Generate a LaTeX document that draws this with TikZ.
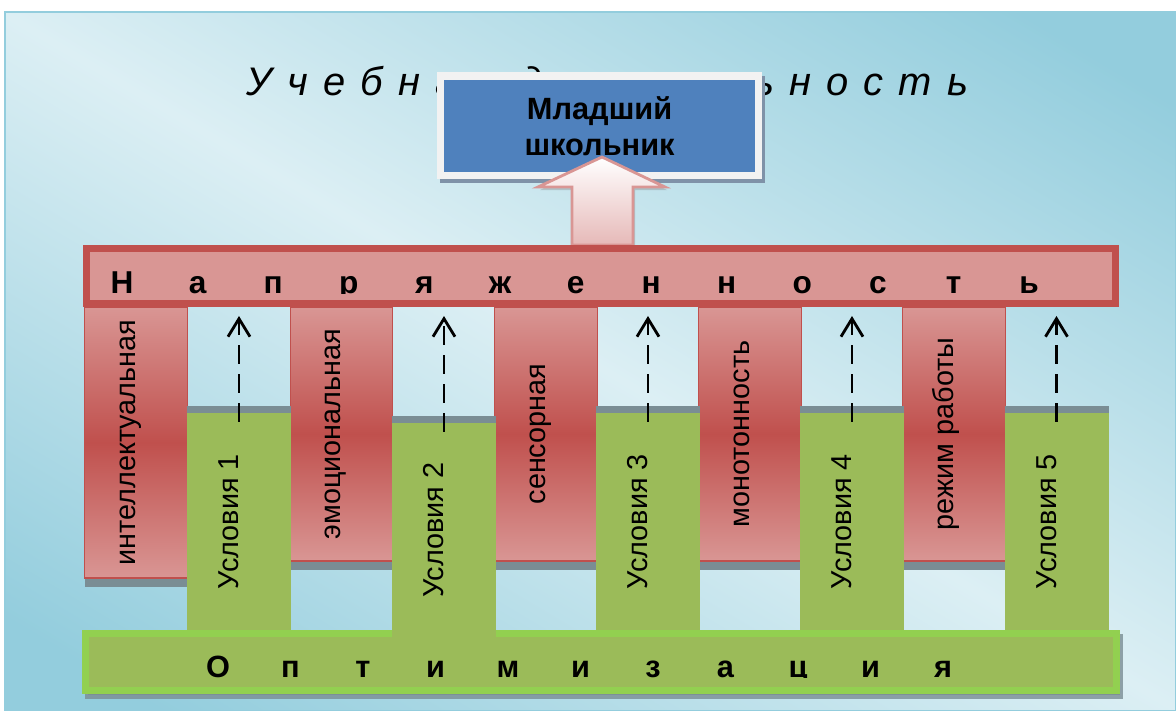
\documentclass[tikz,border=0pt]{standalone}
\usepackage{fontspec}
\setmainfont{Liberation Sans}
\usetikzlibrary{arrows.meta,shadows}

\definecolor{panedark}{HTML}{93CDDD}
\definecolor{panelight}{HTML}{DCEFF4}
\definecolor{kidblue}{HTML}{4F81BD}
\definecolor{kidframe}{HTML}{F2F2F2}
\definecolor{kidshade}{HTML}{7F92A8}
\definecolor{tensred}{HTML}{C0504D}
\definecolor{tenspink}{HTML}{D99694}
\definecolor{arrowpink}{HTML}{E6B9B8}
\definecolor{optgreen}{HTML}{9BBB59}
\definecolor{optlime}{HTML}{92D050}
\definecolor{shadowgray}{HTML}{7A8D94}

% one letter of the spaced words in the two bars
\newcommand{\tlet}[1]{\makebox[1.512cm]{#1}}
\newcommand{\olet}[1]{\makebox[1.45cm]{#1}}

\begin{document}
\begin{tikzpicture}[scale=0.2,
    titletext/.style={font=\fontsize{22.7}{27}\selectfont\itshape\addfontfeatures{LetterSpace=38}},
    kidbox/.style={rectangle, fill=kidblue, draw=kidframe, line width=0.15cm,
        minimum width=6.355cm, minimum height=1.99cm, align=center,
        font=\fontsize{17.5}{20.4}\selectfont\bfseries,
        drop shadow={shadow xshift=0.06cm, shadow yshift=-0.08cm, fill=kidshade, draw=kidshade, line width=0.15cm, opacity=1}},
    arrowfill/.style={top color=white, bottom color=arrowpink, draw=tenspink, line width=1.6pt,
        drop shadow={shadow xshift=0.04cm, shadow yshift=-0.06cm, fill=gray, opacity=0.35}},
    tensbar/.style={rectangle, fill=tenspink, draw=tensred, line width=0.14cm,
        minimum width=20.58cm, minimum height=1.1cm},
    optbar/.style={rectangle, fill=optgreen, draw=optlime, line width=0.14cm,
        minimum width=20.62cm, minimum height=1.15cm,
        drop shadow={shadow xshift=0.06cm, shadow yshift=-0.09cm, fill=shadowgray, draw=shadowgray, line width=0.14cm, opacity=0.8}},
    barword/.style={font=\fontsize{18}{20}\selectfont\bfseries},
    optword/.style={font=\fontsize{17.5}{20}\selectfont\bfseries},
    factor/.style={rectangle, top color=tenspink, bottom color=tenspink, middle color=tensred,
        draw=tensred, line width=0.8pt, minimum width=2.05cm, minimum height=5.08cm,
        drop shadow={shadow xshift=0cm, shadow yshift=-0.17cm, fill=shadowgray, opacity=1}},
    cond/.style={rectangle, fill=optgreen, minimum width=2.08cm, minimum height=4.34cm,
        drop shadow={shadow xshift=0cm, shadow yshift=0.14cm, fill=shadowgray, opacity=1}},
    vlabel/.style={rotate=90, anchor=base, font=\fontsize{16.4}{19}\selectfont},
    dasharrow/.style={line width=1.6pt, dash pattern=on 0.38cm off 0.2cm,
        -{Straight Barb[length=0.36cm, width=0.44cm]}, shorten <=-0.18cm, shorten >=0.25cm}]
    \tikzstyle{every node}+=[inner sep=0pt, outer sep=0pt]
    \useasboundingbox (0,0) rectangle (117.6,-71.1);
    \fill [white] (0,0) rectangle (117.6,-71.1);
    \begin{scope}
        \clip (0.5,-1.2) rectangle (117.6,-71.1);
        \fill [panedark] (0.5,-1.2) rectangle (117.6,-71.1);
        \shade [transform canvas={rotate around={-30.7:(11.81,-7.23)}}, top color=panedark, bottom color=panedark, middle color=panelight] (-10.95,-88.15) rectangle (129.05,15.85);
    \end{scope}
    \draw [panedark, line width=0.6pt] (0.5,-1.2) rectangle (117.6,-71.1);

    % title and the pupil box
    \node [titletext, anchor=base] (title) at (60.75,-9.5) {Учебная деятельность};
    \node [kidbox] (kid) at (59.96,-12.58) {Младший\\школьник};
    \draw [arrowfill] (57.2,-24.5) -- (57.2,-18.7) -- (53.8,-18.7) -- (60.2,-15.7) -- (66.5,-18.7) -- (63.3,-18.7) -- (63.3,-24.5) -- cycle;

    % upper bar
    \node [tensbar] (bar) at (60.1,-27.6) {};
    \begin{scope}
        \clip (8.6,-25.2) rectangle (111.6,-29.35);
        \node [barword, anchor=base] (tension) at (57.56,-29.3) {\tlet{Н}\tlet{а}\tlet{п}\tlet{р}\tlet{я}\tlet{ж}\tlet{е}\tlet{н}\tlet{н}\tlet{о}\tlet{с}\tlet{т}\tlet{ь}};
    \end{scope}

    % kinds of strain
    \node [factor, minimum height=5.42cm] (f1) at (13.6,-44.25) {};
    \node [factor] (f2) at (34.15,-43.4) {};
    \node [factor] (f3) at (54.6,-43.4) {};
    \node [factor] (f4) at (75.0,-43.4) {};
    \node [factor] (f5) at (95.4,-43.4) {};
    \node [vlabel] (l1) at ([xshift=-0.08cm]f1.center) {интеллектуальная};
    \node [vlabel] (l2) at ([xshift=-0.08cm]f2.center) {эмоциональная};
    \node [vlabel] (l3) at ([xshift=-0.08cm]f3.center) {сенсорная};
    \node [vlabel] (l4) at ([xshift=-0.08cm]f4.center) {монотонность};
    \node [vlabel] (l5) at ([xshift=-0.08cm]f5.center) {режим работы};

    % lower bar
    \node [optbar] (opt) at (60.1,-66.22) {};
    \begin{scope}
        \clip (8.6,-63.7) rectangle (111.6,-67.75);
        \node [optword, anchor=base] (optimization) at (58.05,-67.7) {\olet{О}\olet{п}\olet{т}\olet{и}\olet{м}\olet{и}\olet{з}\olet{а}\olet{ц}\olet{и}\olet{я}};
    \end{scope}

    % conditions
    \node [cond] (u1) at (23.9,-52.15) {};
    \node [cond, minimum height=4.28cm] (u2) at (44.4,-53.0) {};
    \node [cond] (u3) at (64.8,-52.15) {};
    \node [cond] (u4) at (85.2,-52.15) {};
    \node [cond] (u5) at (105.65,-52.15) {};
    \node [vlabel] (c1) at (u1.center) {Условия 1};
    \node [vlabel] (c2) at (u2.center) {Условия 2};
    \node [vlabel] (c3) at (u3.center) {Условия 3};
    \node [vlabel] (c4) at (u4.center) {Условия 4};
    \node [vlabel] (c5) at (u5.center) {Условия 5};
    \draw [dasharrow] (u1.north) -- (u1.north |- bar.south);
    \draw [dasharrow] (u2.north) -- (u2.north |- bar.south);
    \draw [dasharrow] (u3.north) -- (u3.north |- bar.south);
    \draw [dasharrow] (u4.north) -- (u4.north |- bar.south);
    \draw [dasharrow] (u5.north) -- (u5.north |- bar.south);
\end{tikzpicture}
\end{document}
